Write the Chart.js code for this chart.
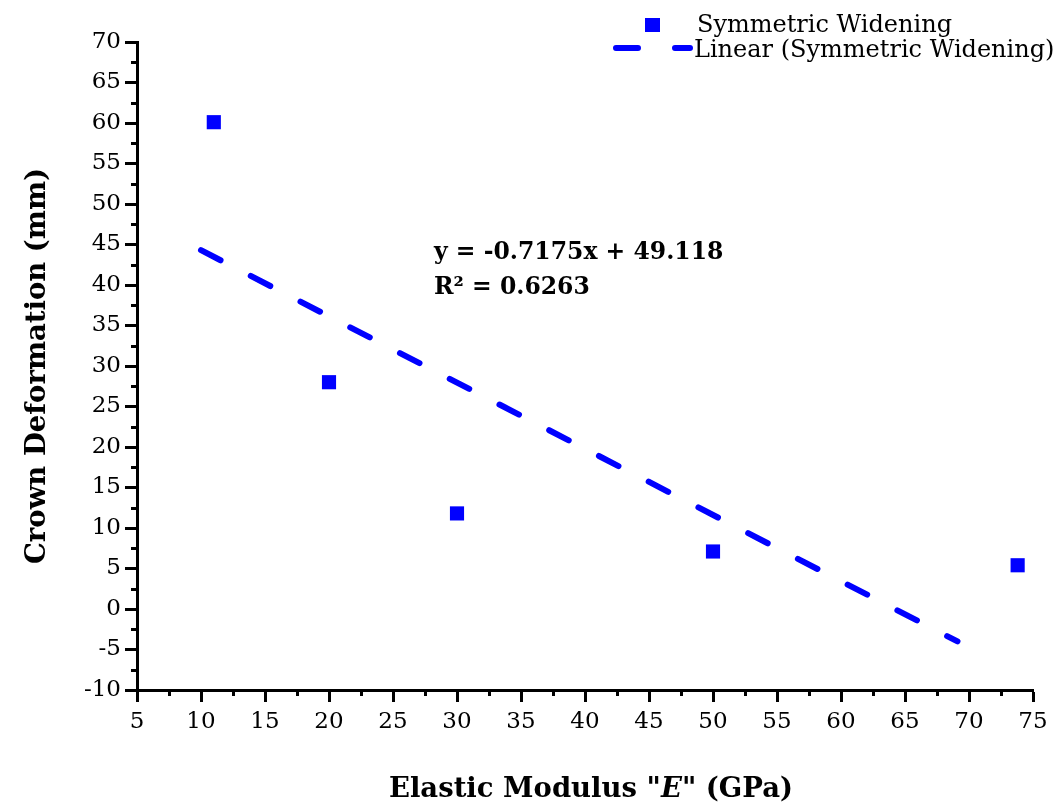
<!DOCTYPE html>
<html lang="en">
<head>
<meta charset="UTF-8">
<title>Crown Deformation vs Elastic Modulus</title>
<script src="https://cdn.jsdelivr.net/npm/chart.js@4.4.1/dist/chart.umd.min.js"></script>
<style>
  html, body { margin: 0; padding: 0; background: #fff; }
  canvas { display: block; }
</style>
</head>
<body>
<canvas id="chart" width="1061" height="805"></canvas>
<script>
  // values
  const modulus = [11, 20, 30, 50, 73.8];
  const deformation = [60.1, 28.0, 11.8, 7.1, 5.4];

  // trend line as it is drawn (start and end)
  const trendX = [10, 69.1];
  const trendY = [44.3, -4.0];

  // axes
  const xMin = 5, xMax = 75, xStep = 5;
  const yMin = -10, yMax = 70, yStep = 5;

  const seriesLabel = 'Symmetric Widening';
  const trendLabel = 'Linear (Symmetric Widening)';
  const equationLines = ['y = -0.7175x + 49.118', 'R\u00b2 = 0.6263'];

  const BLUE = '#0000ff';
  const SERIF = '"DejaVu Serif", serif';

  // extra drawing: minor ticks, axis titles, equation, legend
  const extras = {
    id: 'extras',
    afterDraw(chart) {
      const ctx = chart.ctx;
      const xs = chart.scales.x, ys = chart.scales.y;
      const area = chart.chartArea;
      ctx.save();

      // minor ticks
      ctx.strokeStyle = '#000';
      ctx.lineWidth = 3;
      ctx.beginPath();
      for (let v = xMin + xStep / 2; v < xMax; v += xStep) {
        const px = Math.round(xs.getPixelForValue(v)) + 0.5;
        ctx.moveTo(px, area.bottom);
        ctx.lineTo(px, area.bottom + 6);
      }
      for (let v = yMin + yStep / 2; v < yMax; v += yStep) {
        const py = Math.round(ys.getPixelForValue(v)) + 0.5;
        ctx.moveTo(area.left, py);
        ctx.lineTo(area.left - 6, py);
      }
      ctx.stroke();

      // x title, with italic E
      ctx.fillStyle = '#000';
      ctx.textBaseline = 'alphabetic';
      const parts = [
        ['Elastic Modulus "', 'bold 27.5px ' + SERIF],
        ['E', 'bold italic 27.5px ' + SERIF],
        ['" (GPa)', 'bold 27.5px ' + SERIF]
      ];
      let total = 0;
      parts.forEach(p => { ctx.font = p[1]; total += ctx.measureText(p[0]).width; });
      let tx = 591 - total / 2;
      ctx.textAlign = 'left';
      parts.forEach(p => {
        ctx.font = p[1];
        ctx.fillText(p[0], tx, 797);
        tx += ctx.measureText(p[0]).width;
      });

      // y title
      ctx.save();
      ctx.translate(45, (area.top + area.bottom) / 2);
      ctx.rotate(-Math.PI / 2);
      ctx.textAlign = 'center';
      ctx.font = 'bold 27.5px ' + SERIF;
      ctx.fillText('Crown Deformation (mm)', 0, 0);
      ctx.restore();

      // regression equation
      ctx.font = 'bold 23.5px ' + SERIF;
      ctx.textAlign = 'left';
      ctx.fillText(equationLines[0], 434, 259);
      ctx.fillText(equationLines[1], 434, 294);

      // legend
      ctx.fillStyle = BLUE;
      ctx.fillRect(645, 18, 15, 14);
      ctx.strokeStyle = BLUE;
      ctx.lineWidth = 6;
      ctx.lineCap = 'round';
      ctx.setLineDash([22, 37]);
      ctx.beginPath();
      ctx.moveTo(616, 48);
      ctx.lineTo(690, 48);
      ctx.stroke();
      ctx.setLineDash([]);
      ctx.fillStyle = '#000';
      ctx.font = '24px ' + SERIF;
      ctx.fillText(seriesLabel, 697, 32);
      ctx.fillText(trendLabel, 694, 57);

      ctx.restore();
    }
  };

  const ctx = document.getElementById('chart').getContext('2d');
  new Chart(ctx, {
    type: 'scatter',
    data: {
      datasets: [
        {
          label: seriesLabel,
          data: modulus.map((x, i) => ({ x: x, y: deformation[i] })),
          pointStyle: 'rect',
          pointRadius: 10,
          pointHoverRadius: 10,
          backgroundColor: BLUE,
          borderColor: BLUE,
          borderWidth: 0
        },
        {
          label: trendLabel,
          data: trendX.map((x, i) => ({ x: x, y: trendY[i] })),
          showLine: true,
          pointRadius: 0,
          borderColor: BLUE,
          borderWidth: 6,
          borderDash: [22, 34],
          borderCapStyle: 'round',
          fill: false
        }
      ]
    },
    options: {
      responsive: false,
      animation: false,
      layout: { padding: { top: 42, right: 28, left: 0, bottom: 0 } },
      plugins: {
        legend: { display: false },
        tooltip: { enabled: false }
      },
      scales: {
        x: {
          type: 'linear',
          min: xMin,
          max: xMax,
          afterFit(scale) { scale.height = 115; },
          border: { display: true, color: '#000', width: 3 },
          grid: { drawOnChartArea: false, drawTicks: true, tickLength: 12, tickWidth: 3, tickColor: '#000' },
          ticks: { stepSize: xStep, color: '#000', padding: 6, font: { family: SERIF, size: 23 } }
        },
        y: {
          type: 'linear',
          min: yMin,
          max: yMax,
          afterFit(scale) { scale.width = 137; },
          border: { display: true, color: '#000', width: 3 },
          grid: { drawOnChartArea: false, drawTicks: true, tickLength: 12, tickWidth: 3, tickColor: '#000' },
          ticks: { stepSize: yStep, color: '#000', padding: 4, font: { family: SERIF, size: 23 } }
        }
      }
    },
    plugins: [extras]
  });
</script>
</body>
</html>
